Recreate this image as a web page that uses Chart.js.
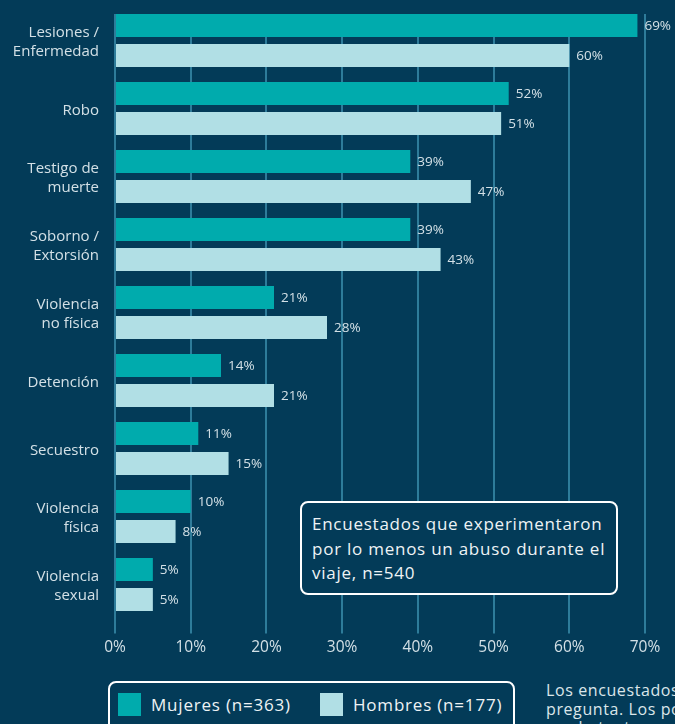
<!DOCTYPE html>
<html>
<head>
<meta charset="utf-8">
<script src="https://cdn.jsdelivr.net/npm/chart.js@4"></script>
<style>
  html, body { margin: 0; padding: 0; background: #033b58; overflow: hidden; }
  #wrap { position: relative; width: 675px; height: 724px; font-family: "Open Sans", sans-serif; }
  #grafico { position: absolute; left: 0; top: 0; }
  .nota { position: absolute; left: 300px; top: 501px; width: 318px; height: 94px; box-sizing: border-box;
          border: 2px solid #ffffff; border-radius: 8px; background: #033b58; color: #eef3f5;
          font-size: 17px; letter-spacing: 0.75px; line-height: 24.5px; padding: 9px 10px; white-space: nowrap; }
  .leyenda { position: absolute; left: 108px; top: 681px; width: 407px; height: 60px; box-sizing: border-box;
             border: 2px solid #ffffff; border-radius: 8px; color: #eef3f5; font-size: 17px; letter-spacing: 0.8px; }
  .item { position: absolute; top: 10px; height: 23px; line-height: 23px; }
  .cuadro { position: absolute; left: 0; top: 0; width: 23px; height: 23px; }
  .item span.txt { position: absolute; left: 33px; white-space: nowrap; }
  .pie { position: absolute; left: 546px; top: 681px; color: #dbe6ea; font-size: 16px; letter-spacing: 0.6px; line-height: 18.5px; white-space: nowrap; }
</style>
</head>
<body>
<div id="wrap">
  <canvas id="grafico" width="675" height="670"></canvas>
  <div class="nota">Encuestados que experimentaron<br>por lo menos un abuso durante el<br>viaje, n=540</div>
  <div class="leyenda" id="leyenda"></div>
  <div class="pie">Los encuestados podían elegir más de una opción en esta<br>pregunta. Los porcentajes no suman 100%.<br>por lo tanto</div>
</div>
<script>
// categorias y valores
const categorias = [
  ["Lesiones /", "Enfermedad"],
  ["Robo"],
  ["Testigo de", "muerte"],
  ["Soborno /", "Extorsión"],
  ["Violencia", "no física"],
  ["Detención"],
  ["Secuestro"],
  ["Violencia", "física"],
  ["Violencia", "sexual"]
];
const mujeres = [69, 52, 39, 39, 21, 14, 11, 10, 5];
const hombres = [60, 51, 47, 43, 28, 21, 15, 8, 5];
const series = ["Mujeres (n=363)", "Hombres (n=177)"];
const ticksX = [0, 10, 20, 30, 40, 50, 60, 70];

const colorFondo = "#033b58";
const colorMujeres = "#00abad";
const colorHombres = "#b1dfe5";
const colorTexto = "#d3e0e6";

// tapa el trozo de rejilla que sobra arriba de la primera barra
const recorte = {
  id: "recorte",
  beforeDatasetsDraw(chart) {
    const ctx = chart.ctx;
    ctx.save();
    ctx.fillStyle = colorFondo;
    ctx.fillRect(chart.chartArea.left - 2, 0, chart.width, 14);
    ctx.restore();
  }
};

// escribe el porcentaje al final de cada barra
const etiquetas = {
  id: "etiquetas",
  afterDatasetsDraw(chart) {
    const ctx = chart.ctx;
    ctx.save();
    ctx.font = "13.5px 'Open Sans'";
    ctx.fillStyle = colorTexto;
    ctx.textBaseline = "middle";
    chart.data.datasets.forEach((ds, i) => {
      chart.getDatasetMeta(i).data.forEach((bar, j) => {
        ctx.fillText(ds.data[j] + "%", bar.x + 7, bar.y + 1);
      });
    });
    ctx.restore();
  }
};

// nombres de las categorias, alineados a la derecha en x=99
const nombres = {
  id: "nombres",
  afterDraw(chart) {
    const ctx = chart.ctx;
    const y = chart.scales.y;
    ctx.save();
    ctx.font = "15px 'Open Sans'";
    ctx.fillStyle = colorTexto;
    ctx.textAlign = "right";
    ctx.textBaseline = "middle";
    categorias.forEach((lineas, i) => {
      const centro = y.getPixelForTick(i) + 2;
      const alto = 19;
      lineas.forEach((t, k) => {
        ctx.fillText(t, y.right - 16, centro + (k - (lineas.length - 1) / 2) * alto);
      });
    });
    ctx.restore();
  }
};

const chart = new Chart(document.getElementById("grafico"), {
  type: "bar",
  data: {
    labels: categorias.map(c => c.join(" ")),
    datasets: [
      { label: series[0], data: mujeres, backgroundColor: colorMujeres },
      { label: series[1], data: hombres, backgroundColor: colorHombres }
    ]
  },
  options: {
    indexAxis: "y",
    responsive: false,
    animation: false,
    categoryPercentage: 0.882,
    barPercentage: 0.767,
    layout: { padding: { top: 6.5, right: 30, left: 0, bottom: 0 } },
    plugins: { legend: { display: false }, tooltip: { enabled: false } },
    scales: {
      x: {
        min: 0, max: 70,
        afterBuildTicks: (s) => { s.ticks = ticksX.map(v => ({ value: v })); },
        afterFit: (s) => { s.height = 51.5; },
        grid: { color: "#2e7c9a", lineWidth: 2, tickLength: 15, tickColor: "#2e7c9a" },
        border: { display: false },
        ticks: { color: colorTexto, font: { family: "Open Sans", size: 15.5 }, padding: 5,
                 callback: (v) => v + "%" }
      },
      y: {
        afterFit: (s) => { s.width = 115; s.paddingTop = 0; s.paddingBottom = 0; },
        grid: { display: false, drawTicks: false },
        border: { display: false },
        ticks: { display: false }
      }
    }
  },
  plugins: [recorte, etiquetas, nombres]
});

// leyenda en html con los colores de los datasets
const leyenda = document.getElementById("leyenda");
const posiciones = [8, 210];
chart.data.datasets.forEach((ds, i) => {
  const item = document.createElement("div");
  item.className = "item";
  item.style.left = posiciones[i] + "px";
  item.innerHTML = '<div class="cuadro" style="background:' + ds.backgroundColor + '"></div><span class="txt">' + ds.label + '</span>';
  leyenda.appendChild(item);
});
</script>
</body>
</html>
